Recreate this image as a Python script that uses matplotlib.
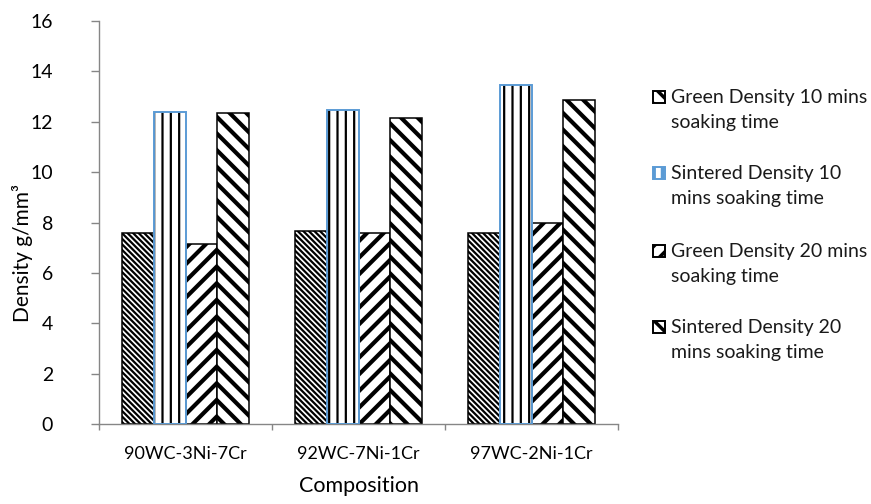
import numpy as np
import matplotlib
matplotlib.use("Agg")
import matplotlib.pyplot as plt
from matplotlib.patches import Rectangle

plt.rcParams["font.family"] = ["Lato", "DejaVu Sans"]

# data
compositions = ["90WC-3Ni-7Cr", "92WC-7Ni-1Cr", "97WC-2Ni-1Cr"]
series_names = [
    "Green Density 10 mins\nsoaking time",
    "Sintered Density 10\nmins soaking time",
    "Green Density 20 mins\nsoaking time",
    "Sintered Density 20\nmins soaking time",
]
green_10 = [7.57, 7.67, 7.59]
sintered_10 = [12.40, 12.47, 13.46]
green_20 = [7.15, 7.59, 7.97]
sintered_20 = [12.36, 12.16, 12.86]
yticks = [0, 2, 4, 6, 8, 10, 12, 14, 16]

values = [green_10, sintered_10, green_20, sintered_20]
hatches = ["\\" * 6, "||", "//", "\\\\"]
hatch_lw = [1.6, 1.6, 3.0, 3.0]
edges = ["black", "#5B9BD5", "black", "black"]

fig = plt.figure(figsize=(8.71, 5.04), dpi=100)
ax = fig.add_axes([99 / 871, 80 / 504, 519 / 871, 403 / 504])

x = np.arange(len(compositions))
w = 0.184
for i, vals in enumerate(values):
    pos = x + (i - 1.5) * w
    plt.rcParams["hatch.linewidth"] = hatch_lw[i]
    bars = ax.bar(pos, vals, width=w, color="white", edgecolor="black",
                  linewidth=0 if i == 1 else 1.1, hatch=hatches[i], zorder=2)
    for b in bars:
        if hasattr(b, "set_hatch_linewidth"):
            b.set_hatch_linewidth(hatch_lw[i])
    if i == 1:
        # blue outline drawn separately so the hatch stays black
        ax.bar(pos, vals, width=w, fill=False, edgecolor=edges[i],
               linewidth=1.4, zorder=3)

ax.set_xlim(-0.5, 2.5)
ax.set_ylim(0, 16)
ax.set_yticks(yticks)
ax.set_xticks([-0.5, 0.5, 1.5, 2.5])
ax.set_xticklabels([])
ax.set_xticks(x, minor=True)
ax.set_xticklabels(compositions, minor=True)
ax.tick_params(axis="x", which="minor", length=0, pad=16, labelsize=13)
ax.tick_params(axis="x", which="major", length=4.5, color="#868686", width=1)
ax.tick_params(axis="y", length=6, color="#868686", width=1, pad=27, labelsize=14)

for s in ["top", "right"]:
    ax.spines[s].set_visible(False)
for s in ["left", "bottom"]:
    ax.spines[s].set_color("#868686")
    ax.spines[s].set_linewidth(1)

ax.set_ylabel("Density g/mm³", fontsize=15)
ax.yaxis.set_label_coords(-0.128, 0.424)
ax.set_xlabel("Composition", fontsize=15.5)
ax.xaxis.set_label_coords(0.5, -0.13)

# legend drawn by hand: marker beside the first line of each wrapped label
entry_y = [97, 173, 251, 327]
plt.rcParams["hatch.linewidth"] = 2.5
for i, name in enumerate(series_names):
    y0 = entry_y[i]
    fig.patches.append(Rectangle((653 / 871, 1 - (y0 + 6) / 504), 12 / 871, 12 / 504,
                                 transform=fig.transFigure, facecolor="white",
                                 edgecolor=edges[i], hatch=hatches[i][:2], linewidth=1.4))
    for j, line in enumerate(name.split("\n")):
        fig.text(671 / 871, 1 - (y0 + 25.5 * j) / 504, line, fontsize=14,
                 va="center", ha="left", color="#1a1a1a")

fig.savefig("out.png", dpi=100)
